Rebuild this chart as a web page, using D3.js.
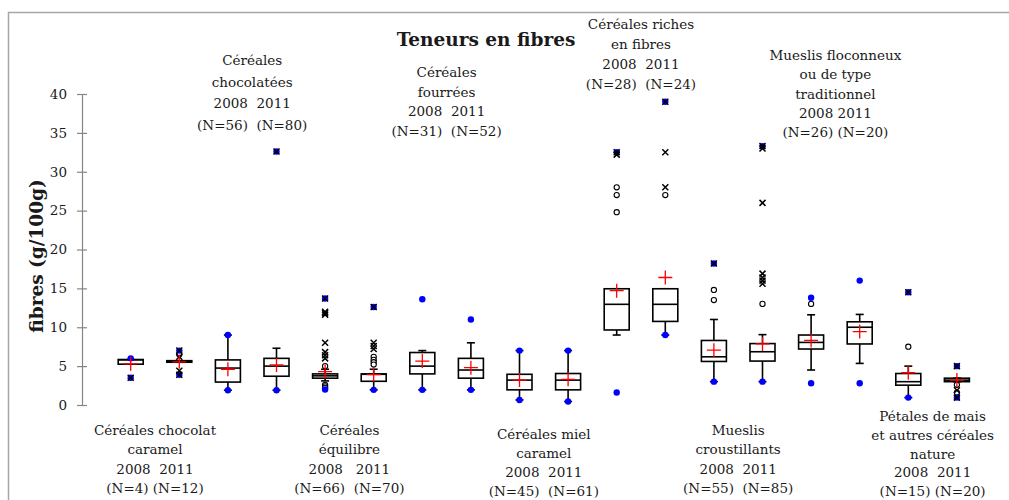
<!DOCTYPE html>
<html>
<head>
<meta charset="utf-8">
<script src="https://cdn.jsdelivr.net/npm/d3@7"></script>
<style>
  body { margin: 0; background: #fff; }
  text { font-family: "DejaVu Serif", serif; fill: #1a1a1a; }
</style>
</head>
<body>
<div id="box-chart"></div>
<script>
// one entry per box, 2008 then 2011 for each group
const boxes = ["cc08", "cc11", "ch08", "ch11", "eq08", "eq11", "fo08", "fo11", "mc08", "mc11",
               "ri08", "ri11", "mu08", "mu11", "fl08", "fl11", "pe08", "pe11"];
const q1     = [5.25, 5.5, 2.95, 3.7, 3.45, 3.05, 4.0, 3.45, 1.95, 1.95, 9.65, 10.75, 5.6, 5.65, 7.2, 7.85, 2.55, 3.0];
const median = [5.8, 5.6, 4.75, 5.0, 3.75, 3.95, 5.0, 4.5, 3.2, 3.2, 12.95, 12.95, 6.2, 6.85, 8.05, 10.0, 3.0, 3.2];
const q3     = [5.85, 5.7, 5.8, 6.0, 4.0, 4.0, 6.75, 6.0, 3.95, 4.05, 14.95, 14.95, 8.3, 7.9, 9.0, 10.7, 4.05, 3.45];
const whiskLow  = [5.25, 5.5, 1.9, 1.9, 3.1, 1.95, 1.95, 1.95, 0.65, 0.45, 9.0, 9.0, 3.0, 3.0, 4.5, 5.35, 0.95, 3.0];
const whiskHigh = [5.85, 5.7, 9.0, 7.3, 4.6, 4.6, 7.0, 8.0, 7.0, 7.0, 14.95, 14.95, 11.0, 9.05, 11.6, 11.65, 5.0, 3.45];
const means  = [5.3, 5.55, 4.6, 5.15, 4.3, 3.9, 5.65, 4.8, 3.2, 3.3, 14.7, 16.4, 7.05, 7.85, 8.3, 9.45, 4.15, 3.2];
const minVal = [3.5, 3.9, 1.9, 1.9, 2.0, 1.95, 1.95, 1.95, 0.65, 0.45, 1.6, 9.0, 3.0, 3.0, 2.8, 2.8, 0.95, 0.95];
const maxVal = [6.0, 7.0, 9.0, 32.6, 13.7, 12.6, 13.6, 11.0, 7.0, 7.0, 32.5, 39.0, 18.2, 33.3, 13.8, 16.0, 14.5, 5.0];
const circles = [[], [6.5], [], [], [5.0, 2.6, 2.4, 2.2], [6.2, 5.8, 5.5, 5.2], [], [], [], [],
                 [28.0, 27.0, 24.8], [27.0], [14.8, 13.5], [13.0], [13.0], [], [7.5], [2.6, 1.6]];
const crosses = [[3.5], [7.0, 6.2, 4.4, 3.9], [], [32.6], [13.7, 12.0, 11.8, 11.6, 8.0, 6.8, 6.4, 6.0],
                 [12.6, 8.0, 7.6, 7.2], [], [], [], [], [32.5, 32.2], [39.0, 32.5, 28.0], [18.2],
                 [33.3, 33.0, 26.0, 16.9, 16.4, 16.0, 15.6], [], [], [14.5], [5.0, 1.9, 0.95]];

const groupLines = [
  ["Céréales chocolat", "caramel", "2008  2011", "(N=4) (N=12)"],
  ["Céréales", "chocolatées", "2008  2011", "(N=56)  (N=80)"],
  ["Céréales", "équilibre", "2008   2011", "(N=66)  (N=70)"],
  ["Céréales", "fourrées", "2008  2011", "(N=31)  (N=52)"],
  ["Céréales miel", "caramel", "2008  2011", "(N=45)  (N=61)"],
  ["Céréales riches", "en fibres", "2008  2011", "(N=28)  (N=24)"],
  ["Mueslis", "croustillants", "2008  2011", "(N=55)  (N=85)"],
  ["Mueslis floconneux", "ou de type", "traditionnel", "2008 2011", "(N=26) (N=20)"],
  ["Pétales de mais", "et autres céréales", "nature", "2008  2011", "(N=15) (N=20)"]
];
const yTicks = [0, 5, 10, 15, 20, 25, 30, 35, 40];

(function() {
    var width = 1009;
    var height = 500;
    // first baseline of each group label
    var labelTop = [435, 65, 435, 77, 439, 29, 435, 60, 421];
    var lineGap = [19.3, 21.5, 19.3, 19.5, 19, 20, 19.3, 19.3, 18.8];

    var svg = d3.select("#box-chart")
    .append("svg")
    .attr("width", width)
    .attr("height", height);

    // frame
    svg.append("path")
    .attr("d", `M8.5,${height} V12.5 H${width}`)
    .attr("fill", "none")
    .attr("stroke", "#a6a6a6")
    .attr("stroke-width", 1.5);

    const yScale = d3.scaleLinear()
    .domain([0, 40])
    .range([405, 94]);

    const xScale = d3.scaleBand()
    .domain(boxes)
    .range([106.4, 981.2]);

    const bw = 25;
    const cap = 4;

    const yAxis = svg.append("g")
    .attr("transform", "translate(82,0)")
    .call(d3.axisLeft(yScale).tickValues(yTicks).tickSize(5).tickSizeOuter(0).tickPadding(10));
    yAxis.select(".domain").attr("stroke", "#868686").attr("stroke-width", 1.2);
    yAxis.selectAll(".tick line").attr("x1", 5).attr("stroke", "#868686").attr("stroke-width", 1.2);
    yAxis.selectAll(".tick text")
    .attr("style", "font-family:'DejaVu Serif',serif; font-size:13.5px;")
    .attr("fill", "#1a1a1a");

    svg.append("text")
    .attr("transform", "translate(43,256) rotate(-90)")
    .attr("text-anchor", "middle")
    .attr("style", "font-size:18.5px; font-weight:bold;")
    .text("fibres (g/100g)");

    svg.append("text")
    .attr("x", 486)
    .attr("y", 46)
    .attr("text-anchor", "middle")
    .attr("style", "font-size:18.5px; font-weight:bold;")
    .text("Teneurs en fibres");

    const cx = (i) => xScale(boxes[i]) + xScale.bandwidth() / 2;

    const g = svg.selectAll(".box")
    .data(boxes)
    .enter()
    .append("g")
    .attr("class", "box");

    // whiskers
    g.append("line")
    .attr("x1", (d, i) => cx(i)).attr("x2", (d, i) => cx(i))
    .attr("y1", (d, i) => yScale(whiskHigh[i])).attr("y2", (d, i) => yScale(q3[i]))
    .attr("stroke", "#000").attr("stroke-width", 1.6);
    g.append("line")
    .attr("x1", (d, i) => cx(i)).attr("x2", (d, i) => cx(i))
    .attr("y1", (d, i) => yScale(q1[i])).attr("y2", (d, i) => yScale(whiskLow[i]))
    .attr("stroke", "#000").attr("stroke-width", 1.6);
    g.append("line")
    .attr("x1", (d, i) => cx(i) - cap).attr("x2", (d, i) => cx(i) + cap)
    .attr("y1", (d, i) => yScale(whiskHigh[i])).attr("y2", (d, i) => yScale(whiskHigh[i]))
    .attr("stroke", "#000").attr("stroke-width", 1.6);
    g.append("line")
    .attr("x1", (d, i) => cx(i) - cap).attr("x2", (d, i) => cx(i) + cap)
    .attr("y1", (d, i) => yScale(whiskLow[i])).attr("y2", (d, i) => yScale(whiskLow[i]))
    .attr("stroke", "#000").attr("stroke-width", 1.6);

    // box
    g.append("rect")
    .attr("x", (d, i) => cx(i) - bw / 2)
    .attr("y", (d, i) => yScale(q3[i]))
    .attr("width", bw)
    .attr("height", (d, i) => Math.max(yScale(q1[i]) - yScale(q3[i]), 1))
    .attr("fill", "#fff")
    .attr("stroke", "#000")
    .attr("stroke-width", 1.6);

    g.append("line")
    .attr("x1", (d, i) => cx(i) - bw / 2).attr("x2", (d, i) => cx(i) + bw / 2)
    .attr("y1", (d, i) => yScale(median[i])).attr("y2", (d, i) => yScale(median[i]))
    .attr("stroke", "#000").attr("stroke-width", 1.6);

    // outliers: circles
    g.selectAll(".circ")
    .data((d, i) => circles[i].map(v => ({ i: i, v: v })))
    .enter()
    .append("circle")
    .attr("cx", (p) => cx(p.i))
    .attr("cy", (p) => yScale(p.v))
    .attr("r", 2.6)
    .attr("fill", "#fff")
    .attr("stroke", "#000")
    .attr("stroke-width", 1.1);

    // min and max points
    g.selectAll(".ext")
    .data((d, i) => [minVal[i], maxVal[i]].map(v => ({ i: i, v: v })))
    .enter()
    .append("circle")
    .attr("cx", (p) => cx(p.i))
    .attr("cy", (p) => yScale(p.v))
    .attr("r", 3.2)
    .attr("fill", "#0000ff");

    // outliers: crosses
    g.selectAll(".cross")
    .data((d, i) => crosses[i].map(v => ({ i: i, v: v })))
    .enter()
    .append("path")
    .attr("d", (p) => {
        var x = cx(p.i), y = yScale(p.v), s = 3;
        return `M${x - s},${y - s}L${x + s},${y + s}M${x - s},${y + s}L${x + s},${y - s}`;
    })
    .attr("stroke", "#000")
    .attr("stroke-width", 1.5);

    // mean
    g.append("path")
    .attr("d", (d, i) => {
        var x = cx(i), y = yScale(means[i]);
        return `M${x - 7},${y}H${x + 7}M${x},${y - 7}V${y + 7}`;
    })
    .attr("stroke", "#ff0000")
    .attr("stroke-width", 1.3);

    // group labels
    groupLines.forEach((lines, k) => {
        var x = (cx(2 * k) + cx(2 * k + 1)) / 2;
        var t = svg.append("text")
        .attr("text-anchor", "middle")
        .attr("style", "font-size:13.5px; white-space:pre;");
        lines.forEach((s, j) => {
            t.append("tspan")
            .attr("x", x)
            .attr("y", labelTop[k] + j * lineGap[k])
            .text(s);
        });
    });
})();
</script>
</body>
</html>
